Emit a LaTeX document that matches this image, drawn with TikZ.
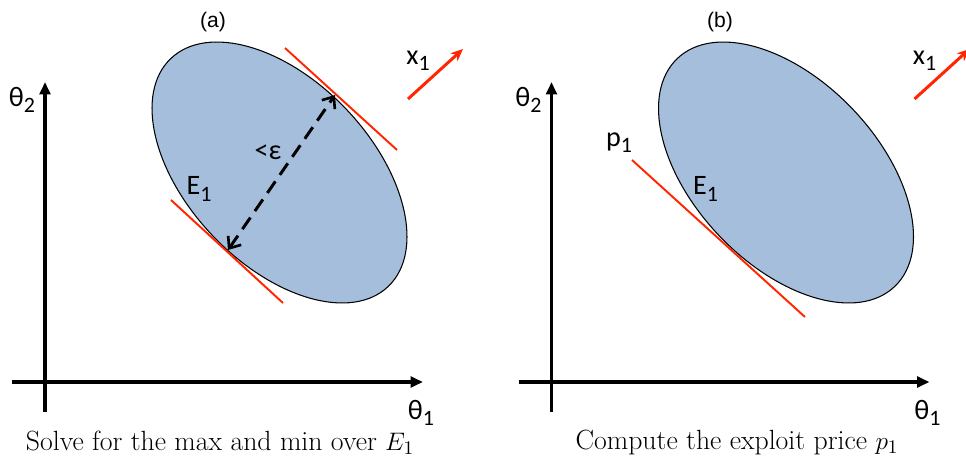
\documentclass[tikz,border=0pt]{standalone}
\usepackage{amsmath}
\usepackage{fontspec}
\usepackage{tikz}
\usetikzlibrary{arrows.meta,positioning,calc}
\newfontfamily\labelfont{Carlito}
\newfontfamily\tagfont{Liberation Sans}
\definecolor{elSetFill}{RGB}{164,190,220}
\definecolor{elRed}{RGB}{255,38,0}
\newcommand{\sublab}[1]{\raisebox{-0.45ex}{\fontsize{12.5}{12.5}\selectfont #1}}
\tikzset{
    elAxis/.style={line width=1.9pt, -{Triangle[length=7pt,width=6pt]}},
    elSet/.style={draw=black, line width=0.6pt, fill=elSetFill},
    elTangent/.style={draw=elRed, line width=1.1pt},
    elDir/.style={draw=elRed, line width=1.7pt, -{Stealth[length=7pt,width=6pt]}},
    elGap/.style={line width=1.7pt, dash pattern=on 8pt off 4.5pt,
        {Straight Barb[length=5.5pt,width=9pt,line width=1.5pt]}-{Straight Barb[length=5.5pt,width=9pt,line width=1.5pt]}},
    elLabel/.style={font=\labelfont\fontsize{16}{18}\selectfont, inner sep=0pt},
    elTag/.style={font=\tagfont\fontsize{12}{13}\selectfont, inner sep=0pt},
    elCaption/.style={font=\fontsize{15.8}{17}\selectfont, inner sep=0pt}
}
\begin{document}
\begin{tikzpicture}
\useasboundingbox (0,0) rectangle (19.32,9.12);

% (a) max and min over the set
\begin{scope}
\coordinate (aYlo) at (0.90,0.88);
\coordinate (aYhi) at (0.90,7.48);
\coordinate (aXlo) at (0.24,1.48);
\coordinate (aXhi) at (8.46,1.48);
\draw[elAxis] (aYlo) -- (aYhi);
\draw[elAxis] (aXlo) -- (aXhi);
\node[elLabel] (aTh2) at (0.44,7.12) {θ\sublab{2}};
\node[elLabel] (aTh1) at (8.42,0.86) {θ\sublab{1}};
\node[elTag] (aTag) at (4.26,8.68) {(a)};

\draw[elSet, rotate around={-46.35:(5.59,5.67)}] (5.59,5.67) ellipse (3.15 and 1.84);

\coordinate (aUpS) at (5.70,8.16);
\coordinate (aUpE) at (7.94,6.12);
\coordinate (aLoS) at (3.42,5.12);
\coordinate (aLoE) at (5.66,3.06);
\draw[elTangent] (aUpS) -- (aUpE);
\draw[elTangent] (aLoS) -- (aLoE);

\coordinate (aMax) at (6.70,7.22);
\coordinate (aMin) at (4.56,4.12);
\draw[elGap] (aMin) -- (aMax);
\node[elLabel] (aEps) at (5.36,6.08) {<ε};
\node[elLabel] (aSet) at (3.98,5.34) {E\sublab{1}};

\coordinate (aDirS) at (8.16,7.14);
\coordinate (aDirE) at (9.26,8.14);
\draw[elDir] (aDirS) -- (aDirE);
\node[elLabel] (aX1) at (8.36,7.90) {x\sublab{1}};

\node[elCaption] (aCap) at (4.40,0.27) {Solve for the max and min over $E_1$};
\end{scope}

% (b) exploit price
\begin{scope}[xshift=10.13cm]
\coordinate (bYlo) at (0.90,0.88);
\coordinate (bYhi) at (0.90,7.48);
\coordinate (bXlo) at (0.24,1.48);
\coordinate (bXhi) at (8.46,1.48);
\draw[elAxis] (bYlo) -- (bYhi);
\draw[elAxis] (bXlo) -- (bXhi);
\node[elLabel] (bTh2) at (0.44,7.12) {θ\sublab{2}};
\node[elLabel] (bTh1) at (8.42,0.86) {θ\sublab{1}};
\node[elTag] (bTag) at (4.27,8.68) {(b)};

\draw[elSet, rotate around={-46.35:(5.59,5.67)}] (5.59,5.67) ellipse (3.15 and 1.84);

\coordinate (bPS) at (2.51,5.92);
\coordinate (bPE) at (5.97,2.78);
\draw[elTangent] (bPS) -- (bPE);
\node[elLabel] (bP1) at (2.25,6.26) {p\sublab{1}};
\node[elLabel] (bSet) at (3.98,5.34) {E\sublab{1}};

\coordinate (bDirS) at (8.16,7.14);
\coordinate (bDirE) at (9.26,8.14);
\draw[elDir] (bDirS) -- (bDirE);
\node[elLabel] (bX1) at (8.36,7.90) {x\sublab{1}};

\node[elCaption] (bCap) at (4.61,0.27) {Compute the exploit price $p_1$};
\end{scope}
\end{tikzpicture}
\end{document}
